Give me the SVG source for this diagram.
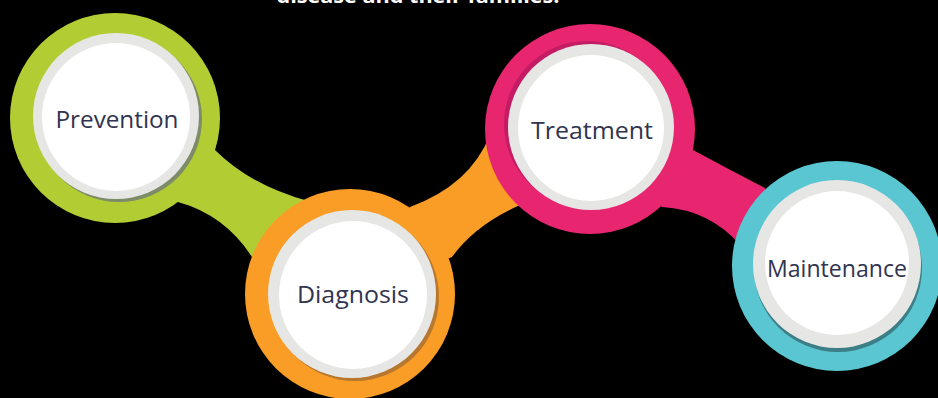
<svg xmlns="http://www.w3.org/2000/svg" width="938" height="398" viewBox="0 0 938 398">
<style>
.lbl{font-family:"Open Sans","Liberation Sans",sans-serif;font-size:24px;fill:#31344f;text-anchor:middle}
.ring-g{fill:#b2cd34}.ring-o{fill:#f99d27}.ring-p{fill:#e8256f}.ring-t{fill:#5ac6d1}
.gray{fill:#e6e6e4}.white{fill:#ffffff}
</style>
<rect width="938" height="398" fill="#000"/>
<text x="418" y="3" font-family="'Open Sans','Liberation Sans',sans-serif" font-weight="bold" font-size="20" fill="#fff" text-anchor="middle" textLength="283" lengthAdjust="spacingAndGlyphs">disease and their families.</text>
<g id="connectors">
<path class="ring-g" d="M195,125 L215,150 Q250,185 308,201 L300,280 L252,257 Q225,215 178,202 L160,190 Z"/>
<path class="ring-o" d="M400,230 L410,207 Q470,185 490,135 L540,160 L520,205 Q475,225 452,257 L420,270 Z"/>
<path class="ring-p" d="M670,120 L693,150 Q730,170 765,188 L770,260 L740,245 Q710,210 662,207 L640,190 Z"/>
</g>
<g id="prevention">
<circle class="ring-g" cx="115" cy="118" r="105"/>
<circle cx="119" cy="119" r="83" fill="#7d8b68"/>
<circle class="gray" cx="116" cy="116" r="83"/>
<circle class="white" cx="116" cy="117" r="74"/>
<text class="lbl" x="117" y="128" textLength="123" lengthAdjust="spacingAndGlyphs">Prevention</text>
</g>
<g id="diagnosis">
<circle class="ring-o" cx="350" cy="294" r="105"/>
<circle cx="355" cy="297" r="84" fill="#b8772e"/>
<circle class="gray" cx="352" cy="294" r="84"/>
<circle class="white" cx="353" cy="295" r="74"/>
<text class="lbl" x="353" y="303" textLength="112" lengthAdjust="spacingAndGlyphs">Diagnosis</text>
</g>
<g id="treatment">
<circle class="ring-p" cx="590" cy="129" r="105"/>
<circle cx="587" cy="124" r="83" fill="#c41c64"/>
<circle class="gray" cx="591" cy="127" r="83"/>
<circle class="white" cx="591" cy="128" r="73"/>
<text class="lbl" x="592" y="139" textLength="122" lengthAdjust="spacingAndGlyphs">Treatment</text>
</g>
<g id="maintenance">
<circle class="ring-t" cx="837" cy="266" r="105"/>
<circle cx="838" cy="268" r="84" fill="#3c7e86"/>
<circle class="gray" cx="837" cy="264" r="84"/>
<circle class="white" cx="837" cy="263" r="72"/>
<text class="lbl" x="837" y="277" textLength="140" lengthAdjust="spacingAndGlyphs">Maintenance</text>
</g>
</svg>
